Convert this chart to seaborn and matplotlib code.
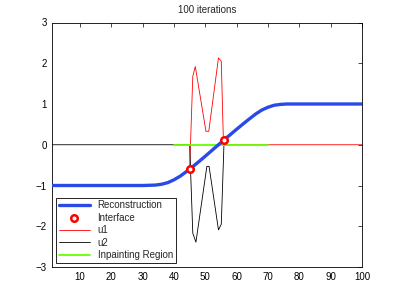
import matplotlib
matplotlib.use('Agg')
import matplotlib.pyplot as plt
import seaborn as sns

# values
rec_x = [1, 30, 34, 36, 38, 40, 42, 45, 48, 50, 53, 56, 60, 63, 66, 68, 70, 72, 74, 76, 80, 100]
rec_y = [-1, -1, -0.99, -0.97, -0.93, -0.86, -0.77, -0.6, -0.41, -0.28, -0.08, 0.12,
         0.38, 0.57, 0.75, 0.85, 0.92, 0.97, 0.99, 1.0, 1.0, 1.0]

iface_x = [45, 56]
iface_y = [-0.6, 0.12]

u1_x = [1, 30, 34, 36, 38, 40, 42, 45, 46, 46.8, 50.2, 51.1, 54.2, 55.1, 55.8, 100]
u1_y = [-1, -1, -0.99, -0.97, -0.93, -0.86, -0.77, -0.6, 1.68, 1.92, 0.33, 0.33,
        2.13, 2.05, 0.0, 0.0]

u2_x = [1, 45, 46, 47, 50.5, 51.2, 54.2, 55.1, 56, 60, 63, 66, 68, 70, 72, 74, 76, 80, 100]
u2_y = [0, 0, -2.17, -2.39, -0.53, -0.53, -2.09, -1.95, 0.12, 0.38, 0.57, 0.75,
        0.85, 0.92, 0.97, 0.99, 1.0, 1.0, 1.0]

region_x = [40, 70]
region_y = [0, 0]

x_ticks = [10, 20, 30, 40, 50, 60, 70, 80, 90, 100]
y_ticks = [-3, -2, -1, 0, 1, 2, 3]

sns.set_style('white')
plt.rcParams['font.family'] = ['Liberation Sans', 'DejaVu Sans']
plt.rcParams['font.size'] = 7

fig = plt.figure(figsize=(3.99, 3.0), dpi=100)
ax = fig.add_axes([0.13, 0.11, 0.777, 0.815])

sns.lineplot(x=rec_x, y=rec_y, color='#2a4ae8', linewidth=2.4, label='Reconstruction',
             sort=False, estimator=None, ax=ax, zorder=4)
sns.scatterplot(x=iface_x, y=iface_y, marker='o', s=22, facecolor='white',
                edgecolor='red', linewidth=1.8, label='Interface', ax=ax, zorder=6)
sns.lineplot(x=u1_x, y=u1_y, color='red', linewidth=0.6, label='u1',
             sort=False, estimator=None, ax=ax, zorder=2)
sns.lineplot(x=u2_x, y=u2_y, color='black', linewidth=0.6, label='u2',
             sort=False, estimator=None, ax=ax, zorder=2)
sns.lineplot(x=region_x, y=region_y, color='#66ff00', linewidth=1.3, label='Inpainting Region',
             sort=False, estimator=None, ax=ax, zorder=3)

ax.set_xlim(1, 100)
ax.set_ylim(-3, 3)
ax.set_xticks(x_ticks)
ax.set_yticks(y_ticks)
ax.set_yticklabels(['\u22123', '\u22122', '\u22121', '0', '1', '2', '3'])
ax.tick_params(direction='in', length=3, width=0.5, top=True, right=True,
               labelsize=7, colors='black')
for sp in ax.spines.values():
    sp.set_linewidth(0.6)
    sp.set_color('black')
ax.set_title('100 iterations', fontsize=7, pad=7)

leg = ax.legend(loc='lower left', fontsize=7, fancybox=False, framealpha=1,
                edgecolor='black', handlelength=3.2, labelspacing=0.25,
                borderaxespad=0.4, borderpad=0.3, handletextpad=0.8)
leg.get_frame().set_linewidth(0.6)

fig.savefig('out.png', dpi=100)
